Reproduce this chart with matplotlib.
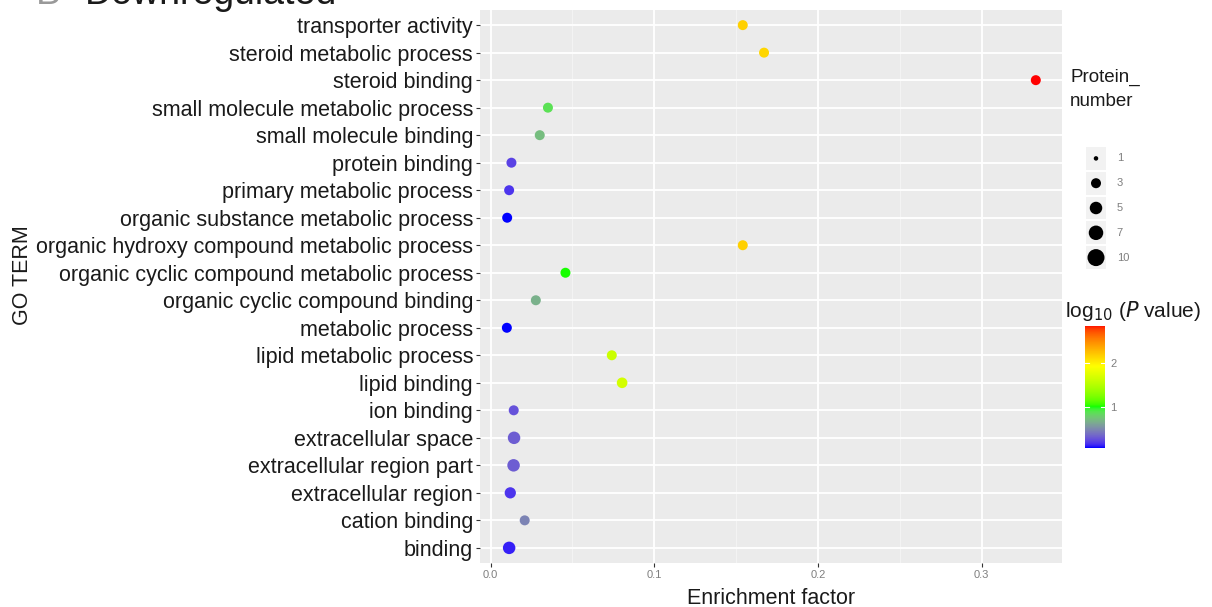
import numpy as np
import matplotlib
matplotlib.use('Agg')
from matplotlib import pyplot as plt
from matplotlib.colors import LinearSegmentedColormap, to_rgb

plt.rcParams['font.family'] = ['Liberation Sans', 'DejaVu Sans']

# GO terms, top to bottom as in the picture
terms = ['transporter activity', 'steroid metabolic process', 'steroid binding',
         'small molecule metabolic process', 'small molecule binding', 'protein binding',
         'primary metabolic process', 'organic substance metabolic process',
         'organic hydroxy compound metabolic process', 'organic cyclic compound metabolic process',
         'organic cyclic compound binding', 'metabolic process', 'lipid metabolic process',
         'lipid binding', 'ion binding', 'extracellular space', 'extracellular region part',
         'extracellular region', 'cation binding', 'binding']
enrichment = [0.154, 0.167, 0.333, 0.035, 0.030, 0.0127, 0.0113, 0.0101, 0.154, 0.0457,
              0.0276, 0.0099, 0.074, 0.0803, 0.0141, 0.0143, 0.014, 0.012, 0.0208, 0.0113]
protein_number = [3, 3, 3, 3, 3, 3, 3, 3, 3, 3, 3, 3, 3, 3.5, 3, 5, 5, 4, 3, 5]
log_p = [2.15, 2.12, 2.85, 0.85, 0.7, 0.2, 0.15, 0.05, 2.15, 1.0,
         0.65, 0.05, 1.6, 1.65, 0.25, 0.3, 0.3, 0.15, 0.45, 0.1]

size_breaks = [1, 3, 5, 7, 10]
cbar_ticks = [1, 2]
p_min, p_max = 0.05, 2.85


# colour ramp like ggplot's gradientn (interpolated in CIE Lab)
def rgb2lab(c):
    c = np.asarray(c, float)
    c = np.where(c > 0.04045, ((c + 0.055) / 1.055) ** 2.4, c / 12.92)
    m = np.array([[0.4124, 0.3576, 0.1805], [0.2126, 0.7152, 0.0722], [0.0193, 0.1192, 0.9505]])
    xyz = m @ c / np.array([0.95047, 1.0, 1.08883])
    f = np.where(xyz > 0.008856, np.cbrt(xyz), 7.787 * xyz + 16 / 116)
    return np.array([116 * f[1] - 16, 500 * (f[0] - f[1]), 200 * (f[1] - f[2])])


def lab2rgb(lab):
    fy = (lab[0] + 16) / 116
    f = np.array([fy + lab[1] / 500, fy, fy - lab[2] / 200])
    xyz = np.where(f ** 3 > 0.008856, f ** 3, (f - 16 / 116) / 7.787) * np.array([0.95047, 1.0, 1.08883])
    m = np.array([[3.2406, -1.5372, -0.4986], [-0.9689, 1.8758, 0.0415], [0.0557, -0.2040, 1.0570]])
    c = m @ xyz
    c = np.where(c > 0.0031308, 1.055 * np.clip(c, 0, None) ** (1 / 2.4) - 0.055, 12.92 * c)
    return np.clip(c, 0, 1)


anchors = [rgb2lab(to_rgb(c)) for c in ['blue', '#00ff00', 'yellow', 'red']]
ramp = []
for t in np.linspace(0, 1, 256):
    s = t * 3
    i = min(int(s), 2)
    ramp.append(lab2rgb(anchors[i] + (anchors[i + 1] - anchors[i]) * (s - i)))
cmap = LinearSegmentedColormap.from_list('gp', ramp)


def diam(n):
    # point diameter in pixels
    return np.interp(n, size_breaks, [4.5, 10, 12.5, 14.5, 17])


W, H = 1212, 607
fig = plt.figure(figsize=(W / 100, H / 100), dpi=100)
ax = fig.add_axes([480 / W, 1 - 563 / H, 582 / W, 553 / H])
ax.set_facecolor('#ebebeb')

y = np.arange(len(terms))[::-1]
d = diam(np.array(protein_number))
ax.scatter(enrichment, y, s=(d * 0.72) ** 2, c=log_p, cmap=cmap, vmin=p_min, vmax=p_max,
           edgecolors='none', zorder=3)

ax.set_xlim(-0.0065, 0.349)
ax.set_ylim(-0.55, len(terms) - 0.45)
ax.set_yticks(y)
ax.set_yticklabels(terms, fontsize=15.5, color='#1a1a1a')
ax.set_xticks([0.0, 0.1, 0.2, 0.3])
ax.set_xticklabels(['0.0', '0.1', '0.2', '0.3'], fontsize=8, color='#7f7f7f')
ax.set_xticks([0.05, 0.15, 0.25], minor=True)
ax.grid(True, which='major', color='white', linewidth=1.3)
ax.grid(True, which='minor', axis='x', color='#f4f4f4', linewidth=0.7)
ax.set_axisbelow(True)
for sp in ax.spines.values():
    sp.set_visible(False)
ax.tick_params(axis='both', which='major', length=3, color='#333333', pad=2)
ax.tick_params(axis='x', which='minor', length=0)
ax.set_xlabel('Enrichment factor', fontsize=15.5, color='#1a1a1a', labelpad=6)
ax.set_ylabel('GO TERM', fontsize=15.5, color='#1a1a1a')
ax.yaxis.set_label_coords(-447 / 582, 0.52)

# cut-off panel title at the very top
fig.text(36 / W, 1 - 4 / H, 'B', fontsize=27, color='#999999', va='baseline')
fig.text(85 / W, 1 - 4 / H, 'Downregulated', fontsize=27, color='#1a1a1a', va='baseline')

# size legend
fig.text(1070 / W, 1 - 106 / H, 'Protein_\nnumber', fontsize=13.5, color='#1a1a1a',
         va='baseline', linespacing=1.5)
lax = fig.add_axes([1085 / W, 1 - 270 / H, 22 / W, 124 / H])
lax.set_xlim(0, 1)
lax.set_ylim(len(size_breaks), 0)
lax.axis('off')
for k, n in enumerate(size_breaks):
    lax.add_patch(plt.Rectangle((0.03, k + 0.04), 0.94, 0.92, color='#f2f2f2', lw=0))
    lax.scatter([0.5], [k + 0.5], s=(diam(n) * 0.72) ** 2, color='black', edgecolors='none')
    lax.text(1.45, k + 0.5, str(n), fontsize=8, color='#7f7f7f', va='center', ha='left')

# colour bar
fig.text(1065 / W, 1 - 317 / H, r'log$_{10}$ ($\it{P}$ value)', fontsize=15, color='#1a1a1a',
         va='baseline')
cax = fig.add_axes([1085 / W, 1 - 448 / H, 20 / W, 122 / H])
grad = np.linspace(p_min, p_max, 200).reshape(-1, 1)
cax.imshow(grad, aspect='auto', origin='lower', cmap=cmap, extent=[0, 1, p_min, p_max])
cax.set_xticks([])
cax.yaxis.tick_right()
cax.set_yticks(cbar_ticks)
cax.tick_params(axis='y', length=0, labelsize=8, labelcolor='#7f7f7f', pad=4)
for t in cbar_ticks:
    cax.plot([0, 0.2], [t, t], color='white', lw=0.8)
    cax.plot([0.8, 1], [t, t], color='white', lw=0.8)
cax.set_xlim(0, 1)
for sp in cax.spines.values():
    sp.set_visible(False)

fig.savefig('out.png', dpi=100)
